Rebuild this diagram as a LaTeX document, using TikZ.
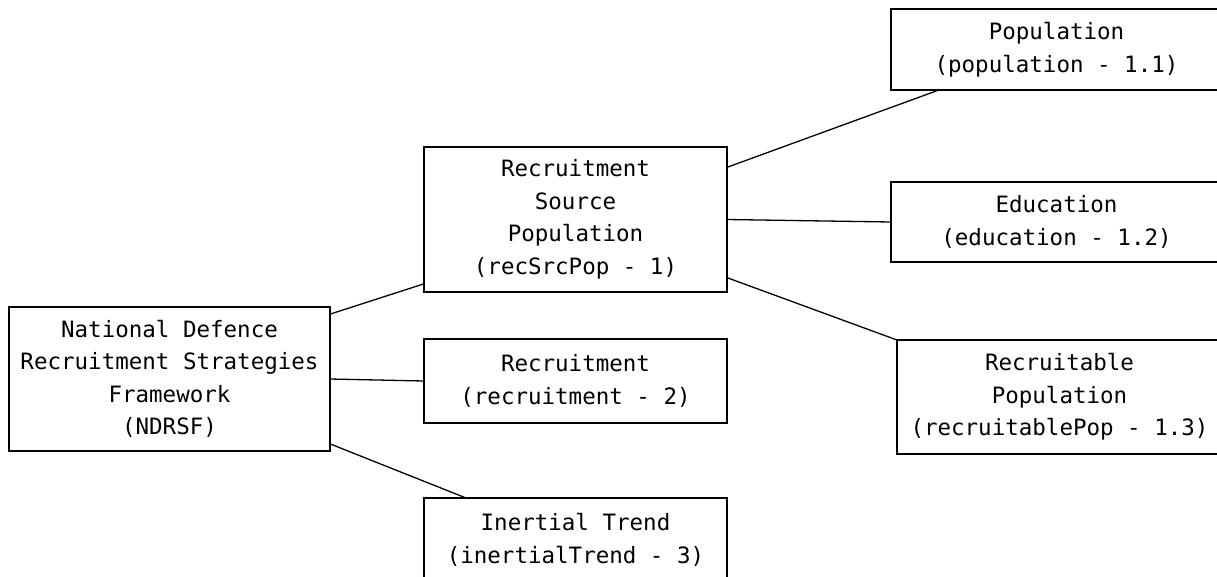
\documentclass[tikz,border=0pt]{standalone}
\usepackage{fontspec}
\setmonofont{DejaVu Sans Mono}
\usepackage{tikz}
\tikzset{
	box/.style={draw, line width=2pt, inner sep=0pt, outer sep=0pt, align=center, font=\ttfamily\fontsize{22.5}{32.5}\selectfont},
	link/.style={line width=1.3pt}
}

\begin{document}
\begin{tikzpicture}[x=1pt, y=-1pt]
	\clip (0,0) rectangle (1217,576);
	\node[box, minimum width=321pt, minimum height=144pt] (ndrsf) at (169.5,379) {National Defence\\Recruitment Strategies\\Framework\\(NDRSF)};
	\node[box, minimum width=303pt, minimum height=145pt] (recsrc) at (575.5,219.5) {Recruitment\\Source\\Population\\(recSrcPop - 1)};
	\node[box, minimum width=303pt, minimum height=84pt] (recruit) at (575.5,381) {Recruitment\\(recruitment - 2)};
	\node[box, minimum width=303pt, minimum height=84pt] (inertial) at (575.5,540) {Inertial Trend\\(inertialTrend - 3)};
	\node[box, minimum width=331pt, minimum height=81pt] (population) at (1056.5,49.5) {Population\\(population - 1.1)};
	\node[box, minimum width=331pt, minimum height=80pt] (education) at (1056.5,222) {Education\\(education - 1.2)};
	\node[box, minimum width=325pt, minimum height=114pt] (recruitable) at (1059.5,397) {Recruitable\\Population\\(recruitablePop - 1.3)};
	\draw[link] (ndrsf.22)--(recsrc.203);
	\draw[link] (ndrsf.east)--(recruit.west);
	\draw[link] (ndrsf.-22)--(inertial.159);
	\draw[link] (recsrc.19)--(population.199);
	\draw[link] (recsrc.east)--(education.west);
	\draw[link] (recsrc.-21)--(recruitable.north west);
\end{tikzpicture}
\end{document}
